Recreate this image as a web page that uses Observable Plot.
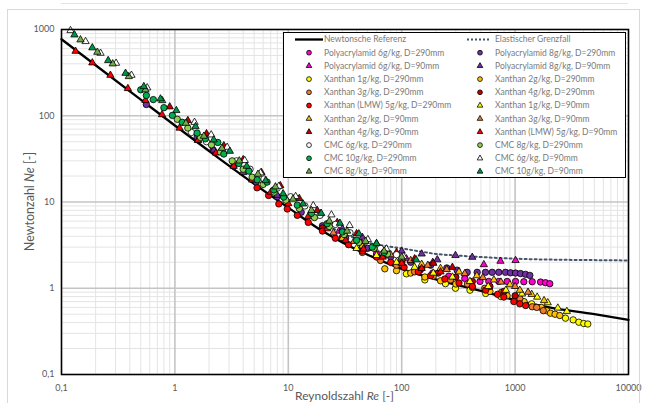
<!DOCTYPE html>
<html><head><meta charset="utf-8">
<script src="https://cdn.jsdelivr.net/npm/d3@7"></script>
<script src="https://cdn.jsdelivr.net/npm/@observablehq/plot@0.6"></script>
<style>
html,body{margin:0;padding:0;background:#fff;}
#wrap{position:relative;width:647px;height:403px;overflow:hidden;background:#fff;}
#border{position:absolute;left:7px;top:9px;width:633px;height:430px;border:1px solid #d9d9d9;box-sizing:border-box;pointer-events:none;}
</style></head><body><div id="wrap"><div id="border"></div></div>
<script>
// ---- axis ticks ----
const xTicks = [0.1, 1, 10, 100, 1000, 10000];
const xTickLabels = ["0,1", "1", "10", "100", "1000", "10000"];
const yTicks = [0.1, 1, 10, 100, 1000];
const yTickLabels = ["0,1", "1", "10", "100", "1000"];

// ---- reference curves ----
const newtonRe = [0.1, 0.2, 0.5, 1, 2, 5, 10, 20, 30, 50, 100, 200, 500, 1000, 2000, 5000, 10000];
const newtonNe = [770, 385, 154, 77, 39, 16.2, 8.6, 4.6, 3.4, 2.45, 1.68, 1.27, 0.93, 0.73, 0.6, 0.5, 0.43];
const elasticRe = [25, 30, 50, 70, 100, 150, 200, 300, 500, 1000, 2000, 5000, 10000];
const elasticNe = [4.9, 4.4, 3.4, 3.1, 2.9, 2.65, 2.5, 2.4, 2.3, 2.2, 2.15, 2.12, 2.1];

// ---- measured series [Re, Ne] ----
const paa6_290 = [[60,2.5],[100,1.95],[145,1.62],[188,1.5],[260,1.38],[360,1.3],[490,1.2],[586,1.2],[718,1.2],[851,1.2],[1009,1.2],[1194,1.19],[1415,1.19],[1675,1.18],[1854,1.16],[2023,1.13]];
const paa8_290 = [[0.56,135],[1.57,56],[2.17,40],[3.3,26],[5.2,17],[8,11.5],[13,7.6],[20,5.3],[32,3.8],[50,2.9],[80,2.3],[120,2.0],[180,1.85],[250,1.72],[308,1.62],[378,1.53],[463,1.53],[548,1.53],[628,1.53],[718,1.53],[823,1.53],[911,1.51],[1009,1.5],[1117,1.48],[1236,1.45],[1349,1.41]];
const paa6_90 = [[28,4.6],[45,3.5],[69,2.45],[110,2.2],[188,2.0],[530,1.88],[743,2.06],[1009,2.1]];
const paa8_90 = [[1.6,52],[2.2,40],[4,22],[8,12],[19.2,7.3],[30,4.9],[45,3.9],[100,2.7],[150,2.5],[206,2.14],[298,2.4],[419,2.29]];
const x1_290 = [[110,1.47],[160,1.25],[243,1.13],[298,1.0],[400,0.95],[550,0.87],[750,0.8],[1000,0.74],[1400,0.66],[2782,0.45],[3251,0.43],[3648,0.404],[4033,0.39],[4375,0.385]];
const x2_290 = [[71,1.68],[90,1.6],[120,1.5],[160,1.35],[220,1.22],[300,1.12],[420,1.02],[600,0.92],[850,0.82],[1200,0.7],[1700,0.6],[1900,0.55],[2051,0.514],[2250,0.5],[2478,0.483]];
const x3_290 = [[45,2.6],[65,2.1],[90,1.85],[130,1.55],[190,1.38],[270,1.25],[380,1.12],[540,1.0],[760,0.9],[1100,0.76],[1415,0.61],[1550,0.6],[1771,0.55]];
const x4_290 = [[20,5.0],[30,3.9],[45,3.0],[70,2.4],[100,2.0],[150,1.7],[210,1.5],[300,1.35],[420,1.2],[600,1.05],[800,0.92],[1000,0.82]];
const xlmw_290 = [[5.3,14.6],[6.7,11.9],[8.25,9.5],[9.8,8.3],[12,7.0],[15,5.8],[20,4.6],[26,3.8],[34,3.2],[45,2.7],[60,2.3],[80,2.0],[105,1.75],[140,1.55],[180,1.4],[240,1.28],[320,1.15],[420,1.05],[550,0.95],[700,0.85],[795,0.79],[975,0.70],[1100,0.66],[1240,0.63]];
const x1_90 = [[40,2.9],[60,2.4],[90,2.0],[130,1.75],[190,1.5],[280,1.35],[400,1.2],[580,1.05],[830,0.95],[1150,0.86],[1566,0.79],[1940,0.68],[2380,0.59],[2860,0.54]];
const x2_90 = [[30,3.8],[45,3.1],[70,2.5],[100,2.2],[150,1.9],[220,1.7],[320,1.55],[460,1.4],[650,1.25],[900,1.1],[1100,0.95],[1400,0.85],[1800,0.72]];
const x3_90 = [[25,4.4],[38,3.5],[55,2.9],[80,2.45],[120,2.1],[170,1.85],[250,1.65],[360,1.48],[520,1.33],[750,1.18],[1000,1.05],[1300,0.9]];
const x4_90 = [[0.9,127],[1.3,88],[1.9,62],[2.7,45],[4,31],[5.8,22],[8.5,15.5],[12.5,11],[18,8],[27,5.8],[40,4.3],[60,3.3],[90,2.6],[130,2.2],[190,1.95],[280,1.75]];
const xlmw_90 = [[0.133,560],[0.187,411],[0.27,295],[0.385,207],[0.55,151],[0.77,103],[1.1,72],[1.6,52],[2.3,37],[3.3,26],[4.8,18],[7,13],[10,9.6],[15,6.8],[22,4.9],[32,3.6],[46,2.85],[68,2.3],[100,1.95],[150,1.7],[220,1.55]];
const cmc6_290 = [[1.4,64],[1.9,50],[2.6,40],[3.5,30],[4.6,24],[6.1,18.5],[8,14.5],[10.5,11.5],[14,9],[19,7],[26,5.5],[35,4.4],[48,3.5],[65,2.9],[90,2.45]];
const cmc8_290 = [[1.05,91],[1.3,72],[1.68,56],[2.1,46],[2.52,38],[3.2,30],[4,24],[4.8,19.4],[6,16],[7.5,13],[9.5,10.5],[12.5,8.4],[17,6.6],[23,5.2],[31,4.2],[42,3.4],[57,2.9],[75,2.5]];
const cmc10_290 = [[0.5,200],[0.56,172],[0.645,154],[0.8,124],[0.95,101],[1.16,84],[1.57,63],[1.86,54],[2.39,49],[2.7,36],[3.66,28],[4.49,22.8],[5.32,18.1],[6.5,17],[7.45,13.8],[9.1,11.4],[12,9.2],[16,7.4],[22,5.6],[30,4.5],[40,3.6],[55,3.0],[70,2.6]];
const cmc6_90 = [[0.12,973],[0.163,726],[0.221,531],[0.303,407],[0.414,295],[0.57,211],[1.49,84],[2.09,60.1],[2.89,43.2],[4.13,30.3],[5.69,21.8],[8.24,15.2],[11.6,11.6],[16.6,9.1],[24,7.1],[34.7,5.35],[50.3,3.67],[73.4,2.86],[104,2.33]];
const cmc8_90 = [[0.147,760],[0.207,546],[0.283,400],[0.392,285],[0.55,200],[0.773,150],[1.25,82],[1.8,58],[2.6,42],[3.7,30],[5.4,21],[7.7,15],[11,10.8],[16,8.0],[23,6.0],[33,4.6],[48,3.5],[70,2.7],[100,2.3]];
const cmc10_90 = [[0.130,868],[0.187,614],[0.258,437],[0.367,311],[0.532,218],[0.746,157],[1.03,115],[1.52,75],[2.2,52.6],[3.05,38.8],[4.3,26],[6.3,17.7],[9,12.5],[13.5,9.5],[19.5,7.4],[28.5,5.68],[41.9,4.28],[60,3.3],[134,2.14]];

// ---- series names / styles (Excel series order) ----
const seriesNames = [
  "Polyacrylamid 6g/kg, D=290mm", "Polyacrylamid 8g/kg, D=290mm",
  "Polyacrylamid 6g/kg, D=90mm", "Polyacrylamid 8g/kg, D=90mm",
  "Xanthan 1g/kg, D=290mm", "Xanthan 2g/kg, D=290mm",
  "Xanthan 3g/kg, D=290mm", "Xanthan 4g/kg, D=290mm",
  "Xanthan (LMW) 5g/kg, D=290mm", "Xanthan 1g/kg, D=90mm",
  "Xanthan 2g/kg, D=90mm", "Xanthan 3g/kg, D=90mm",
  "Xanthan 4g/kg, D=90mm", "Xanthan (LMW) 5g/kg, D=90mm",
  "CMC 6g/kg, D=290mm", "CMC 8g/kg, D=290mm",
  "CMC 10g/kg, D=290mm", "CMC 6g/kg, D=90mm",
  "CMC 8g/kg, D=90mm", "CMC 10g/kg, D=90mm"
];
const seriesData = [paa6_290, paa8_290, paa6_90, paa8_90, x1_290, x2_290, x3_290, x4_290, xlmw_290, x1_90, x2_90, x3_90, x4_90, xlmw_90, cmc6_290, cmc8_290, cmc10_290, cmc6_90, cmc8_90, cmc10_90];
const seriesColors = ["#ff00cc", "#7030a0", "#ff00cc", "#7030a0", "#ffff00", "#ffc000", "#ed7d31", "#c00000", "#ff0000", "#ffff00", "#ffc000", "#ed7d31", "#c00000", "#ff0000", "#ffffff", "#92d050", "#00b050", "#ffffff", "#70ad47", "#00964a"];
const seriesSymbols = ["circle", "circle", "triangle", "triangle", "circle", "circle", "circle", "circle", "circle", "triangle", "triangle", "triangle", "triangle", "triangle", "circle", "circle", "circle", "triangle", "triangle", "triangle"];

// legend layout: two columns, rows in order
const legendLeft = ["Newtonsche Referenz", "Polyacrylamid 6g/kg, D=290mm", "Polyacrylamid 6g/kg, D=90mm", "Xanthan 1g/kg, D=290mm", "Xanthan 3g/kg, D=290mm", "Xanthan (LMW) 5g/kg, D=290mm", "Xanthan 2g/kg, D=90mm", "Xanthan 4g/kg, D=90mm", "CMC 6g/kg, D=290mm", "CMC 10g/kg, D=290mm", "CMC 8g/kg, D=90mm"];
const legendRight = ["Elastischer Grenzfall", "Polyacrylamid 8g/kg, D=290mm", "Polyacrylamid 8g/kg, D=90mm", "Xanthan 2g/kg, D=290mm", "Xanthan 4g/kg, D=290mm", "Xanthan 1g/kg, D=90mm", "Xanthan 3g/kg, D=90mm", "Xanthan (LMW) 5g/kg, D=90mm", "CMC 8g/kg, D=290mm", "CMC 6g/kg, D=90mm", "CMC 10g/kg, D=90mm"];

// ---- build tables ----
const newton = newtonRe.map((r, i) => ({Re: r, Ne: newtonNe[i]}));
const elastic = elasticRe.map((r, i) => ({Re: r, Ne: elasticNe[i]}));
const minorX = [], minorY = [];
for (const d of [0.1, 1, 10, 100, 1000]) for (let k = 2; k <= 9; k++) { minorX.push(k * d); minorY.push(k * d); }

const rFor = s => s === "circle" ? 3.2 : 2.7;
const dotMarks = seriesData.map((data, i) => Plot.dot(data, {
  x: d => d[0], y: d => d[1], symbol: seriesSymbols[i], r: rFor(seriesSymbols[i]),
  fill: seriesColors[i], stroke: "#000", strokeWidth: 0.8
}));

const W = 647, H = 403, mT = 29, mR = 19, mB = 29, mL = 61;
const chart = Plot.plot({
  width: W, height: H,
  marginTop: mT, marginRight: mR, marginBottom: mB, marginLeft: mL,
  style: {fontFamily: "Lato, sans-serif", fontSize: "9px", color: "#595959", background: "transparent"},
  x: {type: "log", domain: [0.1, 10000], ticks: xTicks, tickFormat: d => xTickLabels[xTicks.indexOf(d)], tickSize: 0, tickPadding: 10, label: null},
  y: {type: "log", domain: [0.1, 1000], ticks: yTicks, tickFormat: d => yTickLabels[yTicks.indexOf(d)], tickSize: 0, tickPadding: 7, label: null},
  marks: [
    Plot.ruleX(minorX, {stroke: "#e4e4e4", strokeWidth: 1}),
    Plot.ruleY(minorY, {stroke: "#e4e4e4", strokeWidth: 1}),
    Plot.ruleX(xTicks, {stroke: "#c4c4c4", strokeWidth: 1.6}),
    Plot.ruleY(yTicks, {stroke: "#c4c4c4", strokeWidth: 1.6}),
    Plot.line(newton, {x: "Re", y: "Ne", stroke: "#000", strokeWidth: 2.3, curve: "monotone-x"}),
    Plot.line(elastic, {x: "Re", y: "Ne", stroke: "#44546a", strokeWidth: 2, strokeDasharray: "2,3", curve: "monotone-x"}),
    ...dotMarks,
    Plot.frame({stroke: "#000", strokeWidth: 1.5})
  ]
});
document.getElementById("wrap").insertBefore(chart, document.getElementById("border"));

// ---- axis titles ----
const svg = d3.select(chart);
const yt = svg.append("text").attr("transform", `translate(34,${(mT + H - mB) / 2}) rotate(-90)`)
  .attr("text-anchor", "middle").attr("fill", "#595959").style("font-size", "12.5px");
yt.append("tspan").text("Newtonzahl ");
yt.append("tspan").style("font-style", "italic").text("Ne");
yt.append("tspan").text(" [-]");
const xt = svg.append("text").attr("transform", `translate(${(mL + W - mR) / 2},${H - 3})`)
  .attr("text-anchor", "middle").attr("fill", "#595959").style("font-size", "12px");
xt.append("tspan").text("Reynoldszahl ");
xt.append("tspan").style("font-style", "italic").text("Re");
xt.append("tspan").text(" [-]");

// ---- legend ----
const lg = svg.append("g").attr("text-anchor", "start");
lg.append("rect").attr("x", 283.5).attr("y", 32.5).attr("width", 342).attr("height", 145)
  .attr("fill", "#fff").attr("stroke", "#000").attr("stroke-width", 1);
const rowY = i => 39.5 + i * 13.2;
const cols = [{names: legendLeft, sx: 309, tx: 324, lx0: 295, lx1: 323}, {names: legendRight, sx: 480, tx: 495, lx0: 467, lx1: 491}];
cols.forEach((c, ci) => {
  c.names.forEach((name, i) => {
    const y = rowY(i);
    if (i === 0) {
      const ln = lg.append("line").attr("x1", c.lx0).attr("x2", c.lx1).attr("y1", y).attr("y2", y);
      if (ci === 0) ln.attr("stroke", "#000").attr("stroke-width", 2.3);
      else ln.attr("stroke", "#44546a").attr("stroke-width", 2).attr("stroke-dasharray", "2,2");
    } else {
      const k = seriesNames.indexOf(name);
      const isC = seriesSymbols[k] === "circle";
      const rr = isC ? 2.4 : 2.1;
      lg.append("path").attr("transform", `translate(${c.sx},${y})`)
        .attr("d", d3.symbol(isC ? d3.symbolCircle : d3.symbolTriangle, Math.PI * rr * rr)())
        .attr("fill", seriesColors[k]).attr("stroke", "#000").attr("stroke-width", 0.8);
    }
    lg.append("text").attr("x", c.tx).attr("y", y).attr("dy", "0.35em").attr("text-anchor", "start")
      .attr("fill", "#7a7a7a").style("font-size", "8.5px").text(name);
  });
});
</script></body></html>
